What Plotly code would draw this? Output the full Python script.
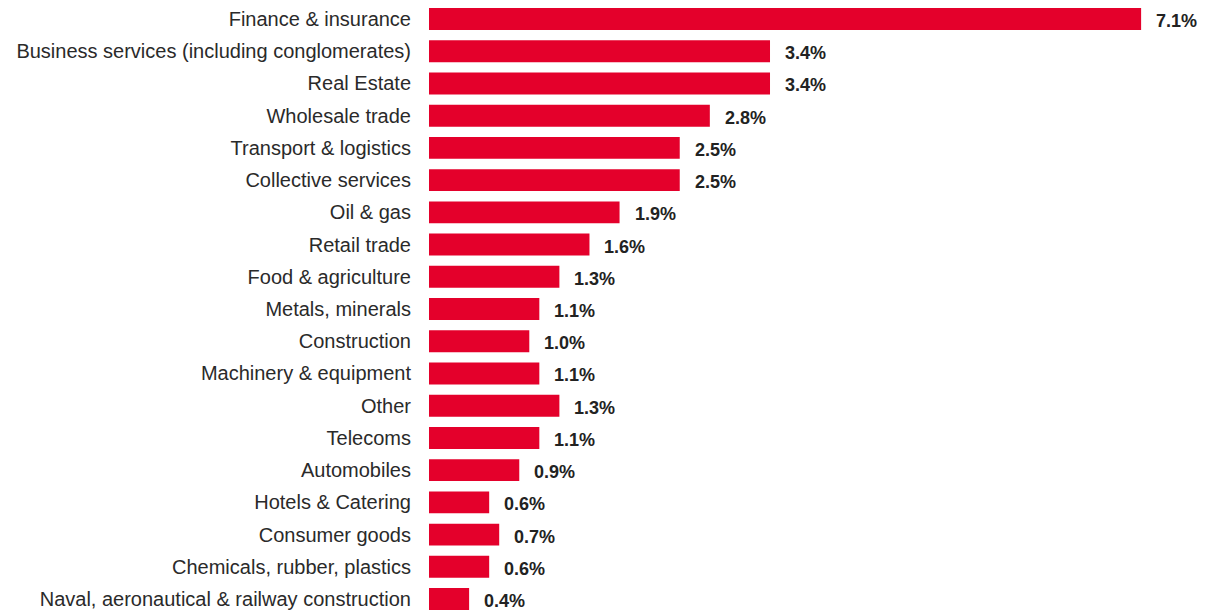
import plotly.graph_objects as go

categories = [
    "Finance & insurance",
    "Business services (including conglomerates)",
    "Real Estate",
    "Wholesale trade",
    "Transport & logistics",
    "Collective services",
    "Oil & gas",
    "Retail trade",
    "Food & agriculture",
    "Metals, minerals",
    "Construction",
    "Machinery & equipment",
    "Other",
    "Telecoms",
    "Automobiles",
    "Hotels & Catering",
    "Consumer goods",
    "Chemicals, rubber, plastics",
    "Naval, aeronautical & railway construction",
]
values = [7.1, 3.4, 3.4, 2.8, 2.5, 2.5, 1.9, 1.6, 1.3, 1.1, 1.0, 1.1, 1.3, 1.1, 0.9, 0.6, 0.7, 0.6, 0.4]
value_labels = [f"{v:.1f}%" for v in values]

RED = "#E4002B"
TXT = "#222222"

fig = go.Figure()
fig.add_trace(go.Bar(
    x=values, y=categories, orientation="h",
    marker=dict(color=RED, line=dict(width=0)),
    width=0.68,
    hoverinfo="skip",
))

for c, v, lab in zip(categories, values, value_labels):
    fig.add_annotation(
        x=v, y=c, text=f"<b>{lab}</b>", showarrow=False,
        xanchor="left", yanchor="middle", xshift=13, yshift=-2,
        font=dict(family="Liberation Sans, Arial", size=18, color=TXT),
    )

fig.update_layout(
    width=1207, height=610,
    margin=dict(l=429, r=0, t=0, b=0),
    paper_bgcolor="white", plot_bgcolor="white",
    showlegend=False,
    xaxis=dict(range=[0, 7.757], visible=False, fixedrange=True),
    yaxis=dict(
        type="category", categoryorder="array", categoryarray=categories,
        range=[18.34, -0.59],
        showgrid=False, zeroline=False, showline=False, ticks="",
        ticklabelstandoff=17, automargin=False,
        tickfont=dict(family="Liberation Sans, Arial", size=20, color="#2a2a2a"),
    ),
)

fig.write_html(
    "out.html",
    config={"displayModeBar": False},
    post_script="document.body.style.margin='0';document.body.style.overflow='hidden';",
)
